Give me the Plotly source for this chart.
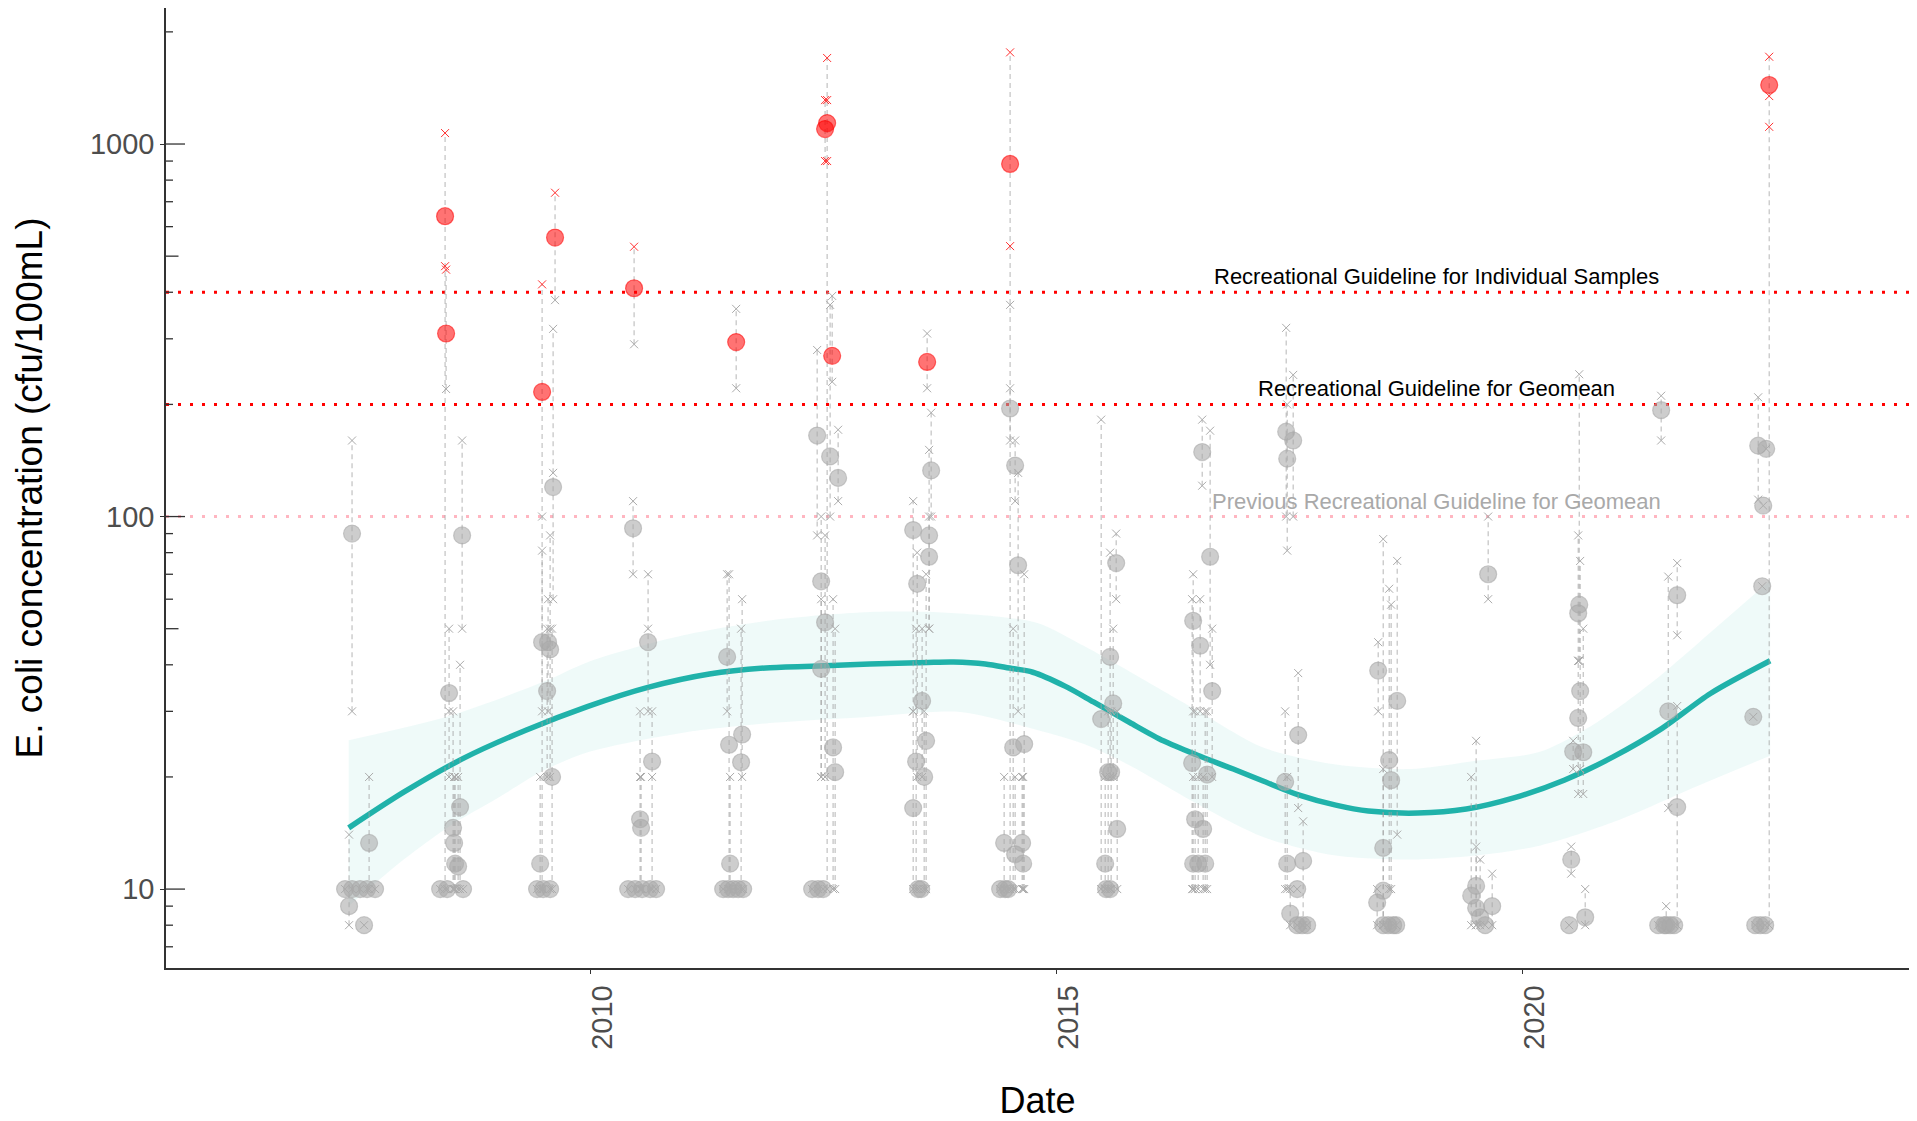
import math
import plotly.graph_objects as go

# ---------------- guideline values (cfu/100mL) ----------------
SAMPLE_GUIDELINE = 400
GEOMEAN_GUIDELINE = 200
PREVIOUS_GEOMEAN_GUIDELINE = 100

# ---------------- sampling events ----------------
# decimal year, geometric mean (circle), individual sample results (x markers)
event_year = [
    # 2007
    2007.446, 2007.414, 2007.629, 2007.575, 2007.371, 2007.446, 2007.532, 2007.607, 2007.693,
    # 2008
    2008.444, 2008.455, 2008.487, 2008.627, 2008.605, 2008.530, 2008.541, 2008.552, 2008.584,
    2008.391, 2008.466, 2008.637,
    # 2009
    2009.485, 2009.624, 2009.603, 2009.485, 2009.571, 2009.549, 2009.539, 2009.592, 2009.464,
    2009.431, 2009.496, 2009.571,
    # 2010
    2010.472, 2010.461, 2010.622, 2010.665, 2010.536, 2010.547,
    2010.408, 2010.483, 2010.558, 2010.644, 2010.708,
    # 2011
    2011.567, 2011.470, 2011.491, 2011.631, 2011.620, 2011.502,
    2011.427, 2011.481, 2011.534, 2011.588, 2011.642,
    # 2012
    2012.543, 2012.521, 2012.597, 2012.436, 2012.575, 2012.661, 2012.479, 2012.521, 2012.479,
    2012.607, 2012.629, 2012.382, 2012.446, 2012.500,
    # 2013
    2013.616, 2013.659, 2013.466, 2013.637, 2013.637, 2013.509, 2013.562, 2013.605, 2013.498,
    2013.584, 2013.466, 2013.519, 2013.552,
    # 2014
    2014.506, 2014.506, 2014.560, 2014.592, 2014.539, 2014.657, 2014.442, 2014.635, 2014.560,
    2014.646, 2014.399, 2014.453, 2014.485,
    # 2015
    2015.483, 2015.644, 2015.579, 2015.612, 2015.558, 2015.590, 2015.655, 2015.526,
    2015.536, 2015.579,
    # 2016
    2016.567, 2016.652, 2016.470, 2016.545, 2016.674, 2016.459, 2016.620, 2016.491, 2016.577,
    2016.470, 2016.524, 2016.599,
    # 2017
    2017.468, 2017.543, 2017.479, 2017.457, 2017.479, 2017.586, 2017.511, 2017.597, 2017.650,
    2017.586, 2017.639, 2017.693,
    # 2018
    2018.509, 2018.455, 2018.509, 2018.444, 2018.659, 2018.573, 2018.594,
    2018.509, 2018.562, 2018.616, 2018.648,
    # 2019
    2019.635, 2019.506, 2019.453, 2019.506, 2019.678, 2019.549, 2019.603,
    # 2020
    2020.612, 2020.601, 2020.622, 2020.601, 2020.547, 2020.655, 2020.526, 2020.504, 2020.676,
    # 2021
    2021.491, 2021.567, 2021.663, 2021.663, 2021.545, 2021.459, 2021.524, 2021.588, 2021.631,
    # 2022
    2022.650, 2022.532, 2022.618, 2022.586, 2022.575, 2022.479, 2022.500, 2022.554, 2022.607,
]

event_geomean = [
    # 2007
    90, 9, 13.3, 8, 10, 10, 10, 10, 10,
    # 2008
    640, 310, 33.6, 89, 16.6, 14.6, 13.3, 11.7, 11.5,
    10, 10, 10,
    # 2009
    216, 561, 120, 46, 44, 46, 34, 20, 11.7,
    10, 10, 10,
    # 2010
    410, 93, 46, 22, 15.4, 14.6,
    10, 10, 10, 10, 10,
    # 2011
    294, 42, 24.4, 26, 21.9, 11.7,
    10, 10, 10, 10, 10,
    # 2012
    1138, 1097, 270, 165, 145, 127, 67, 52, 39,
    24, 20.6, 10, 10, 10,
    # 2013
    260, 133, 92, 89, 78, 66, 32, 25, 22,
    20, 16.5, 10, 10,
    # 2014
    884, 195, 137, 74, 24, 24.5, 13.3, 13.3, 12.4,
    11.7, 10, 10, 10,
    # 2015
    28.6, 75, 42, 31.5, 20.6, 20.6, 14.5, 11.7,
    10, 10,
    # 2016
    149, 78, 52.5, 45, 34, 21.8, 20.3, 15.4, 14.5,
    11.7, 11.7, 11.7,
    # 2017
    169, 160, 143, 19.4, 11.7, 10, 8.6, 25.9, 11.9,
    8, 8, 8,
    # 2018
    12.9, 38.6, 9.9, 9.2, 32, 22.2, 19.6,
    8, 8, 8, 8,
    # 2019
    70, 10.2, 9.6, 8.9, 9.0, 8.4, 8,
    # 2020
    58, 55, 34, 28.8, 23.4, 23.3, 12, 8, 8.4,
    # 2021
    193, 30, 61.5, 16.6, 8, 8, 8, 8, 8,
    # 2022
    1440, 155, 152, 107, 65, 29, 8, 8, 8,
]

event_samples = [
    # 2007
    [160, 30], [14, 8], [20, 10], [8], [10], [10], [10], [10], [10],
    # 2008
    [1070, 470, 10], [460, 220], [50, 30, 20], [160, 50], [40, 10], [30, 10], [20, 10], [20, 10], [20, 10],
    [10], [10], [10],
    # 2009
    [420, 100, 10], [740, 381], [319, 131, 60], [81, 30], [89, 50, 20], [60, 30], [50, 20], [50, 10], [20, 10],
    [10], [10], [10],
    # 2010
    [530, 290], [110, 70], [70, 50, 30], [30, 20, 10], [30, 20, 10], [20, 10],
    [10], [10], [10], [10], [10],
    # 2011
    [361, 221], [70, 30], [70, 10], [60, 20], [50, 10], [20, 10],
    [10], [10], [10], [10], [10],
    # 2012
    [1702, 1312, 900, 10], [1312, 900], [391, 230], [280, 89], [370, 100], [171, 110], [100, 20], [89, 20], [60, 20],
    [60, 10], [50, 10], [10], [10], [10],
    # 2013
    [310, 221], [190, 100], [110, 30], [151, 50], [100, 50], [80, 20], [50, 20], [70, 10], [50, 10],
    [30, 10], [30, 10], [10], [10],
    # 2014
    [1762, 532, 370, 10], [221, 160], [160, 110], [131, 30], [50, 10], [70, 10], [20, 10], [20, 10], [20, 10],
    [20, 10], [10], [10], [10],
    # 2015
    [182, 10], [90, 60], [80, 20], [50, 20], [30, 10], [30, 10], [30, 10], [20, 10],
    [10], [10],
    # 2016
    [182, 121], [170, 40], [70, 30], [60, 30], [50, 20], [60, 10], [30, 10], [30, 10], [20, 10],
    [20, 10], [20, 10], [30, 10],
    # 2017
    [321, 100], [240, 100], [200, 81], [30, 10], [20, 10], [10], [10, 8], [38, 16.5], [15.2, 8],
    [8], [8], [8],
    # 2018
    [87, 8], [46, 30], [21, 8], [10, 8], [76, 14], [64, 10], [58, 10],
    [8], [8], [8], [8],
    # 2019
    [100, 60], [25, 8], [20, 8], [13, 8], [11, 8], [12, 8], [8],
    # 2020
    [241, 41], [89, 41], [76, 21], [41, 18], [25, 21], [50, 18], [13, 11], [8], [10, 8],
    # 2021
    [211, 160], [69, 16.5], [75, 48], [31, 8], [9, 8], [8], [8], [8], [8],
    # 2022
    [1715, 1345, 1112, 8], [209, 111], [152], [107], [65], [29], [8], [8], [8],
]

# ---------------- smoothed trend with confidence band ----------------
smooth_year = [2007.41, 2008.0, 2008.65, 2009.31, 2009.97, 2010.62, 2011.28, 2011.93, 2012.59, 2013.0,
               2013.62, 2013.9, 2014.24, 2014.5, 2014.75, 2015.1, 2015.4, 2015.79, 2016.15, 2016.51,
               2016.9, 2017.22, 2017.6, 2018.0, 2018.35, 2018.88, 2019.4, 2019.92, 2020.45, 2020.97,
               2021.5, 2022.02, 2022.66]
smooth_fit = [14.6, 18.2, 22.5, 26.7, 30.9, 34.8, 37.8, 39.3, 39.8, 40.2,
              40.6, 40.7, 40.2, 39.2, 38.2, 35.0, 31.8, 28.0, 25.0, 22.9,
              21.0, 19.5, 17.9, 16.8, 16.2, 16.0, 16.4, 17.6, 19.6, 22.6,
              27.0, 33.5, 41.0]

band_hi_year = [2007.41, 2008.5, 2009.5, 2010.0, 2011.0, 2012.0, 2012.9, 2013.6, 2014.33, 2014.8, 2015.3,
                2015.8, 2016.5, 2017.22, 2018.0, 2018.8, 2019.5, 2020.2, 2020.8, 2021.4, 2021.9, 2022.66]
band_hi = [25.1, 29.2, 36.0, 40.9, 48.0, 52.9, 55.3, 55.5, 54.0, 51.8, 44.9,
           38.2, 30.3, 24.0, 21.6, 21.0, 22.1, 23.4, 28.0, 36.0, 46.0, 67.3]
band_lo_year = [2007.41, 2008.0, 2008.5, 2009.0, 2009.5, 2010.0, 2011.0, 2012.0, 2012.9, 2013.97, 2014.69,
                2015.3, 2015.8, 2016.5, 2017.22, 2018.0, 2018.8, 2019.5, 2020.2, 2021.0, 2021.9, 2022.66]
band_lo = [9.0, 12.0, 14.8, 17.5, 20.8, 23.4, 26.3, 28.0, 28.9, 29.9, 27.2,
           24.5, 21.4, 17.0, 13.8, 12.3, 12.0, 12.3, 13.1, 15.2, 19.0, 22.8]

# ---------------- axes ----------------
x_tick_vals = [2010, 2015, 2020]
x_tick_text = ["2010", "2015", "2020"]
y_tick_vals = [10, 100, 1000]
y_tick_text = ["10", "100", "1000"]
x_range = [2005.45, 2024.15]
y_range = [6.14, 2318]

guideline_labels = [
    ("Recreational Guideline for Individual Samples", SAMPLE_GUIDELINE, "black"),
    ("Recreational Guideline for Geomean", GEOMEAN_GUIDELINE, "black"),
    ("Previous Recreational Guideline for Geomean", PREVIOUS_GEOMEAN_GUIDELINE, "#A9A9A9"),
]
label_year = 2019.08

FONT = "Liberation Sans, Arial, Helvetica, sans-serif"
TEAL = "#20B2AA"

fig = go.Figure()

# confidence band (lower edge, then upper edge filled down to it)
fig.add_trace(go.Scatter(
    x=band_lo_year, y=band_lo, mode="lines",
    line=dict(width=0, shape="spline", smoothing=0.8), hoverinfo="skip",
))
fig.add_trace(go.Scatter(
    x=band_hi_year, y=band_hi, mode="lines", fill="tonexty",
    fillcolor="rgba(32,178,170,0.07)",
    line=dict(width=0, shape="spline", smoothing=0.8), hoverinfo="skip",
))
# trend line
fig.add_trace(go.Scatter(
    x=smooth_year, y=smooth_fit, mode="lines",
    line=dict(color=TEAL, width=5.5, shape="spline", smoothing=0.8),
    hoverinfo="skip",
))

# range lines (min to max of samples in each event)
rx, ry = [], []
for yr, gm, s in zip(event_year, event_geomean, event_samples):
    vals = s + [gm]
    lo, hi = min(vals), max(vals)
    if hi > lo:
        rx += [yr, yr, None]
        ry += [lo, hi, None]
fig.add_trace(go.Scatter(
    x=rx, y=ry, mode="lines",
    line=dict(color="rgba(160,160,160,0.7)", width=1.1, dash="5px,4px"),
    hoverinfo="skip",
))

# geometric mean circles
gx = [y for y, g in zip(event_year, event_geomean) if g <= GEOMEAN_GUIDELINE]
gy = [g for g in event_geomean if g <= GEOMEAN_GUIDELINE]
rxx = [y for y, g in zip(event_year, event_geomean) if g > GEOMEAN_GUIDELINE]
ryy = [g for g in event_geomean if g > GEOMEAN_GUIDELINE]
fig.add_trace(go.Scatter(
    x=gx, y=gy, mode="markers",
    marker=dict(size=17, color="rgba(169,169,169,0.58)",
                line=dict(color="rgba(169,169,169,0.58)", width=1.2)),
))
fig.add_trace(go.Scatter(
    x=rxx, y=ryy, mode="markers",
    marker=dict(size=17, color="rgba(255,0,0,0.55)",
                line=dict(color="rgba(255,0,0,0.55)", width=1.2)),
))

# individual samples
sx_g, sy_g, sx_r, sy_r = [], [], [], []
for yr, s in zip(event_year, event_samples):
    for v in s:
        if v > SAMPLE_GUIDELINE:
            sx_r.append(yr); sy_r.append(v)
        else:
            sx_g.append(yr); sy_g.append(v)
fig.add_trace(go.Scatter(
    x=sx_g, y=sy_g, mode="markers",
    marker=dict(symbol="x-thin", size=8, color="#ABABAB", line=dict(color="#ABABAB", width=1)),
))
fig.add_trace(go.Scatter(
    x=sx_r, y=sy_r, mode="markers",
    marker=dict(symbol="x-thin", size=8, color="#FF3030", line=dict(color="#FF3030", width=1)),
))

# guideline lines + labels
shapes = []
line_colors = {SAMPLE_GUIDELINE: "red", GEOMEAN_GUIDELINE: "red", PREVIOUS_GEOMEAN_GUIDELINE: "#FFB6C1"}
for text, val, col in guideline_labels:
    shapes.append(dict(type="line", xref="paper", yref="y", x0=0, x1=1, y0=val, y1=val,
                       layer="below", line=dict(color=line_colors[val], width=3, dash="3px,9px")))
    fig.add_annotation(x=label_year, y=math.log10(val), xref="x", yref="y",
                       text=text, showarrow=False, yanchor="bottom", xanchor="center", yshift=1,
                       font=dict(family=FONT, size=22, color=col))

# log ticks drawn inside the panel (long at decades, mid at 5s, short otherwise)
for e in range(0, 4):
    for m in range(1, 10):
        v = m * 10 ** e
        if y_range[0] <= v <= y_range[1]:
            L = 19 if m == 1 else (12.5 if m == 5 else 7)
            shapes.append(dict(type="line", xref="paper", yref="y", xsizemode="pixel", xanchor=0,
                               x0=0, x1=L, y0=v, y1=v, line=dict(color="#333333", width=1.3)))

fig.update_layout(
    width=1917, height=1121,
    margin=dict(l=166, r=8, t=8, b=153, autoexpand=False),
    plot_bgcolor="white", paper_bgcolor="white",
    showlegend=False,
    font=dict(family=FONT),
    shapes=shapes,
)
fig.update_xaxes(
    range=x_range, tickvals=x_tick_vals, ticktext=x_tick_text, tickangle=-90,
    ticks="outside", ticklen=4, tickwidth=1.3, tickcolor="#333333",
    ticklabelshift=12, ticklabelstandoff=0,
    showline=True, linecolor="#333333", linewidth=1.5,
    showgrid=False, zeroline=False,
    tickfont=dict(family=FONT, size=29, color="#4D4D4D"),
    title=dict(text="Date", font=dict(family=FONT, size=36, color="black"), standoff=55),
)
fig.update_yaxes(
    type="log", range=[math.log10(y_range[0]), math.log10(y_range[1])],
    tickvals=y_tick_vals, ticktext=y_tick_text,
    ticks="outside", ticklen=4, tickwidth=1.3, tickcolor="#333333",
    ticklabelstandoff=0,
    showline=True, linecolor="#333333", linewidth=1.5,
    showgrid=False, zeroline=False,
    tickfont=dict(family=FONT, size=29, color="#4D4D4D"),
    title=dict(text="E. coli concentration (cfu/100mL)", font=dict(family=FONT, size=37, color="black"),
               standoff=36),
)

fig.write_html("out.html")
